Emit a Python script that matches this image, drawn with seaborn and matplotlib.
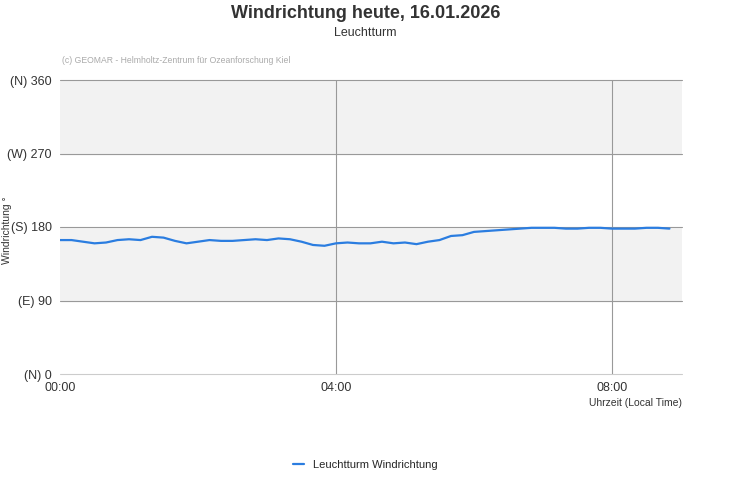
import numpy as np
import pandas as pd
import matplotlib
matplotlib.use("Agg")
import matplotlib.pyplot as plt
import seaborn as sns

# data: wind direction every 10 minutes from 00:00
minutes = list(range(0, 540, 10))
direction = [164, 164, 162, 160, 161, 164, 165, 164, 168, 167,
             163, 160, 162, 164, 163, 163, 164, 165, 164, 166,
             165, 162, 158, 157, 160, 161, 160, 160, 162, 160,
             161, 159, 162, 164, 169, 170, 174, 175, 176, 177,
             178, 179, 179, 179, 178, 178, 179, 179, 178, 178,
             178, 179, 179, 178]
y_ticks = [0, 90, 180, 270, 360]
y_labels = ["(N) 0", "(E) 90", "(S) 180", "(W) 270", "(N) 360"]
x_ticks = [0, 240, 480]
x_labels = ["00:00", "04:00", "08:00"]

df = pd.DataFrame({"min": minutes, "dir": direction})

sns.set_style("white")
plt.rcParams["font.family"] = ["Liberation Sans", "DejaVu Sans"]

fig = plt.figure(figsize=(7.31, 5.0), dpi=100)
ax = fig.add_axes([0.0821, 0.252, 0.851, 0.588])

# alternating bands
for lo, hi, c in [(0, 90, "white"), (90, 180, "#f2f2f2"), (180, 270, "white"), (270, 360, "#f2f2f2")]:
    ax.axhspan(lo, hi, color=c, zorder=0)

sns.lineplot(data=df, x="min", y="dir", ax=ax, color="#2b7de0", linewidth=1.6,
             label="Leuchtturm Windrichtung", legend=False)

ax.set_xlim(0, 541)
ax.set_ylim(0, 360)
ax.set_yticks(y_ticks)
ax.set_yticklabels(y_labels, fontsize=9, color="#333333")
ax.set_xticks(x_ticks)
ax.set_xticklabels(x_labels, fontsize=9, color="#333333")
for t in y_ticks:
    ax.axhline(t, color="#999999" if t else "#cccccc", linewidth=0.8, zorder=1, clip_on=False)
for t in x_ticks[1:]:
    ax.axvline(t, color="#999999", linewidth=0.8, zorder=1)
for s in ax.spines.values():
    s.set_visible(False)
ax.tick_params(length=0, pad=6)
ax.set_xlabel("")
ax.set_ylabel("")
fig.text(0.009, 0.54, "Windrichtung °", rotation=90, ha="center", va="center",
         fontsize=7.5, color="#333333")
ax.text(1.0, -0.1, "Uhrzeit (Local Time)", transform=ax.transAxes, ha="right",
        va="center", fontsize=7.5, color="#333333")
ax.text(0.003, 1.065, "(c) GEOMAR - Helmholtz-Zentrum für Ozeanforschung Kiel",
        transform=ax.transAxes, fontsize=6.2, color="#aaaaaa", va="center")

fig.text(0.5, 0.973, "Windrichtung heute, 16.01.2026", ha="center", va="center",
         fontsize=13, fontweight="bold", color="#333333")
fig.text(0.5, 0.933, "Leuchtturm", ha="center", va="center", fontsize=9, color="#333333")

fig.legend(*ax.get_legend_handles_labels(), loc="center", bbox_to_anchor=(0.5, 0.07),
           frameon=False, fontsize=8, handlelength=1.0)

fig.savefig("out.png", dpi=100)
